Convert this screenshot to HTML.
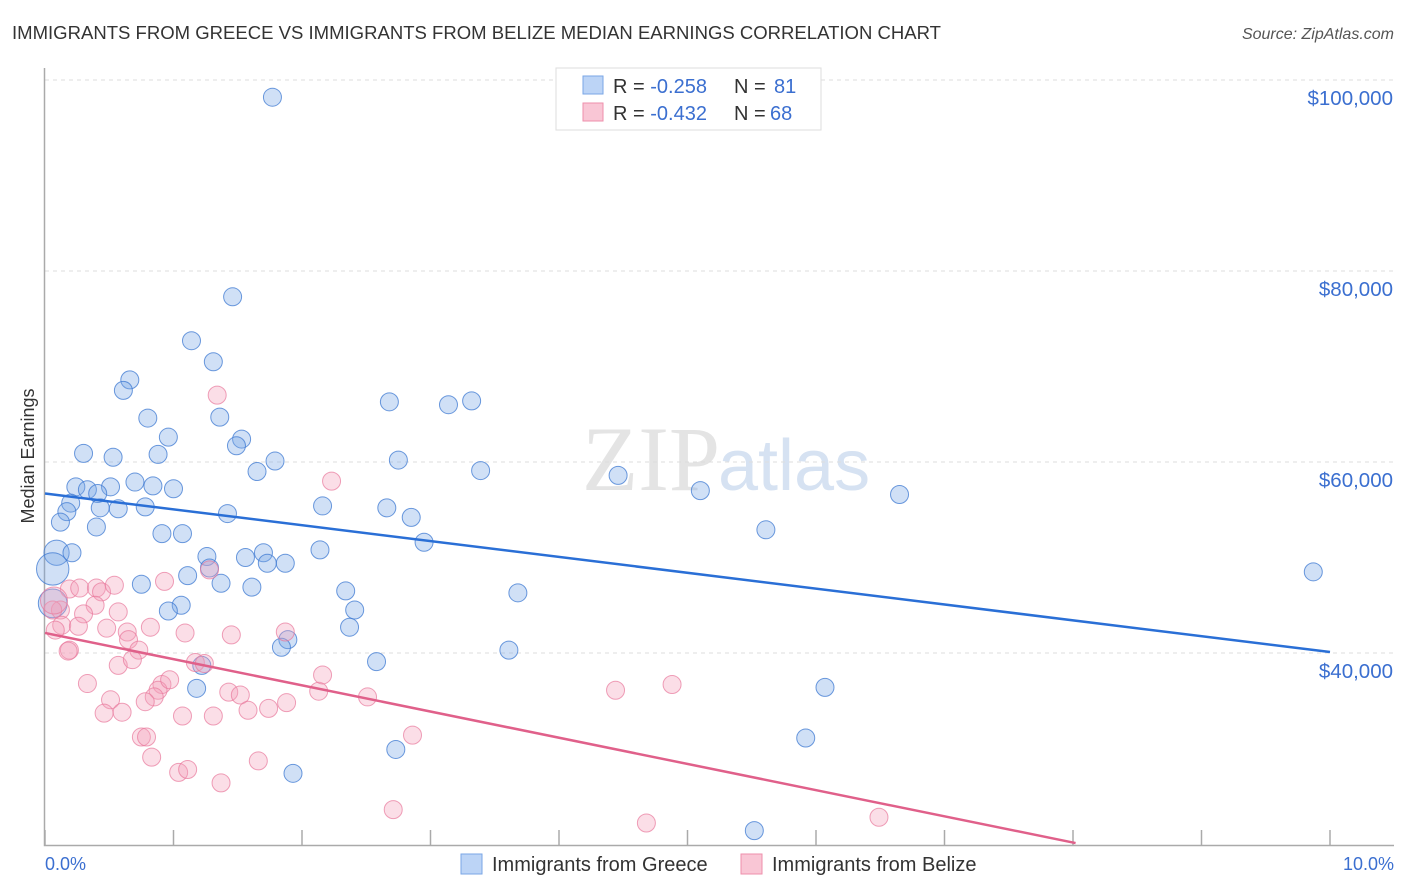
<!DOCTYPE html>
<html><head><meta charset="utf-8"><style>
body{margin:0;background:#fff;font-family:"Liberation Sans",sans-serif;}
#wrap{position:relative;width:1406px;height:892px;overflow:hidden;}
svg{position:absolute;left:0;top:0;}
</style></head><body>
<div id="wrap">
<svg id="chart" width="1406" height="892">
<text x="12" y="39" font-size="18" fill="#333" textLength="929" lengthAdjust="spacingAndGlyphs">IMMIGRANTS FROM GREECE VS IMMIGRANTS FROM BELIZE MEDIAN EARNINGS CORRELATION CHART</text>
<text x="1394" y="39" font-size="16" fill="#555" font-style="italic" text-anchor="end">Source: ZipAtlas.com</text>
<text x="720" y="490" font-size="92" fill="#e4e4e4" font-family="Liberation Serif,serif" text-anchor="end">ZIP</text>
<text x="718" y="490" font-size="72" fill="#d6e2f2" text-anchor="start">atlas</text>
<g id="grid"></g>
<g id="axes"></g>
<g id="pts"></g>
<g id="trends"></g>
<text transform="translate(34,456) rotate(-90)" font-size="18" fill="#333" text-anchor="middle">Median Earnings</text>
<text x="45" y="870" font-size="18" fill="#3b6fd0">0.0%</text>
<text x="1394" y="870" font-size="18" fill="#3b6fd0" text-anchor="end">10.0%</text>
<g>
<rect x="556" y="68" width="265" height="62" fill="#fff" stroke="#ddd"/>
<rect x="583" y="76" width="20" height="18" fill="#bcd4f6" stroke="#7aa6e6"/>
<rect x="583" y="103" width="20" height="18" fill="#f9c6d5" stroke="#ee8fab"/>
<text x="613" y="93" font-size="20" fill="#333">R = <tspan fill="#3b6fd0">-0.258</tspan><tspan x="734">N = </tspan><tspan fill="#3b6fd0" x="774">81</tspan></text>
<text x="613" y="120" font-size="20" fill="#333">R = <tspan fill="#3b6fd0">-0.432</tspan><tspan x="734">N = </tspan><tspan fill="#3b6fd0" x="770">68</tspan></text>
</g>
<g>
<rect x="461" y="854" width="21" height="20" fill="#bcd4f6" stroke="#7aa6e6"/>
<text x="492" y="871" font-size="20" fill="#333">Immigrants from Greece</text>
<rect x="741" y="854" width="21" height="20" fill="#f9c6d5" stroke="#ee8fab"/>
<text x="772" y="871" font-size="20" fill="#333">Immigrants from Belize</text>
</g>
</svg>
</div>
<script>
const yTicks=[40000,60000,80000,100000];
const yTickLabels=["$40,000","$60,000","$80,000","$100,000"];
const xTicks=[0,1,2,3,4,5,6,7,8,9,10];
const greeceX=[1.77,1.46,1.14,1.31,0.66,0.61,0.80,1.36,0.96,1.53,1.49,0.30,0.88,0.53,1.79,1.65,2.68,3.14,3.32,2.75,3.39,4.46,5.10,6.65,5.61,9.87,0.24,0.33,0.51,0.70,0.84,1.00,0.41,0.20,0.17,0.43,0.57,0.78,0.12,0.40,0.91,1.07,1.42,2.16,2.66,2.85,2.95,2.14,1.26,1.56,1.70,1.73,1.87,0.09,0.21,0.06,1.28,1.11,0.75,1.37,1.61,2.34,3.68,1.06,0.96,2.41,2.37,1.89,1.84,3.61,2.58,1.22,1.18,6.07,2.73,5.92,1.93,5.52,0.06];
const greeceY=[98.2,77.3,72.7,70.5,68.6,67.5,64.6,64.7,62.6,62.4,61.7,60.9,60.8,60.5,60.1,59.0,66.3,66.0,66.4,60.2,59.1,58.6,57.0,56.6,52.9,48.5,57.4,57.1,57.4,57.9,57.5,57.2,56.7,55.7,54.8,55.2,55.1,55.3,53.7,53.2,52.5,52.5,54.6,55.4,55.2,54.2,51.6,50.8,50.1,50.0,50.5,49.4,49.4,50.5,50.5,48.8,48.9,48.1,47.2,47.3,46.9,46.5,46.3,45.0,44.4,44.5,42.7,41.4,40.6,40.3,39.1,38.7,36.3,36.4,29.9,31.1,27.4,21.4,45.2];
const greeceSize=[1,1,1,1,1,1,1,1,1,1,1,1,1,1,1,1,1,1,1,1,1,1,1,1,1,1,1,1,1,1,1,1,1,1,1,1,1,1,1,1,1,1,1,1,1,1,1,1,1,1,1,1,1,1.4,1,1.8,1,1,1,1,1,1,1,1,1,1,1,1,1,1,1,1,1,1,1,1,1,1,1.6];
const belizeX=[1.34,2.23,0.93,1.28,0.19,0.27,0.40,0.44,0.54,0.39,0.57,0.12,0.06,0.13,0.30,0.08,0.26,0.48,0.64,0.65,0.73,0.19,0.82,1.09,1.45,1.87,1.17,0.57,0.68,1.24,0.33,0.51,0.91,0.88,0.97,0.85,0.78,1.43,1.52,1.88,2.13,2.51,2.16,4.44,4.88,0.46,0.60,1.07,1.31,1.58,1.74,0.75,0.79,2.86,0.83,1.66,1.04,1.11,1.37,2.71,4.68,6.49,0.18,0.07];
const belizeY=[67.0,58.0,47.5,48.7,46.7,46.8,46.8,46.4,47.1,45.0,44.3,44.5,44.5,42.9,44.1,42.4,42.8,42.6,42.2,41.4,40.3,40.3,42.7,42.1,41.9,42.2,39.0,38.7,39.3,38.9,36.8,35.1,36.7,36.1,37.2,35.4,34.9,35.9,35.6,34.8,36.0,35.4,37.7,36.1,36.7,33.7,33.8,33.4,33.4,34.0,34.2,31.2,31.2,31.4,29.1,28.7,27.5,27.8,26.4,23.6,22.2,22.8,40.2,45.5];
const trendGreece=[56.7,40.1];   // value at x=0 and x=10
const trendBelize=[42.1,20.1,8.02]; // value at x=0, value at end, end x
const NS="http://www.w3.org/2000/svg";
const X0=45,X1=1330,YT=80,Y100=100000,PX20=191;
function xs(p){return X0+p*(X1-X0)/10;}
function ys(v){return YT+(Y100-v)*PX20/20000;}
function mk(tag,attrs,parent){const e=document.createElementNS(NS,tag);for(const k in attrs)e.setAttribute(k,attrs[k]);parent.appendChild(e);return e;}
const grid=document.getElementById('grid'),axes=document.getElementById('axes'),pts=document.getElementById('pts'),tr=document.getElementById('trends');
yTicks.forEach((v,i)=>{
  const l=mk('line',{x1:45,x2:1394,y1:ys(v),y2:ys(v),stroke:'#ddd','stroke-dasharray':'4,4'},grid);
  
  
  const t=mk('text',{x:1393,y:ys(v)+25,'font-size':20.5,fill:'#3b6fd0','text-anchor':'end'},grid);
  t.textContent=yTickLabels[i];
  
  
});
const ax=mk('path',{d:'M44.5,68 V845.5 H1394',fill:'none',stroke:'#aaa','stroke-width':1.5},axes);


xTicks.forEach(p=>{
  const t=mk('line',{x1:xs(p),x2:xs(p),y1:830,y2:845,stroke:'#aaa','stroke-width':1.5},axes);
  
  
});
greeceX.forEach((x,i)=>{
  const c=mk('circle',{cx:xs(x),cy:ys(greeceY[i]*1000),r:9*greeceSize[i],fill:'rgba(120,165,230,0.35)',stroke:'rgba(60,120,210,0.75)','stroke-width':1},pts);
  
  
});
belizeX.forEach((x,i)=>{
  const c=mk('circle',{cx:xs(x),cy:ys(belizeY[i]*1000),r:9*(i===belizeX.length-1?1.5:1),fill:'rgba(244,160,185,0.35)',stroke:'rgba(232,120,155,0.7)','stroke-width':1},pts);
  
  
});
const tg=mk('line',{x1:xs(0),y1:ys(trendGreece[0]*1000),x2:xs(10),y2:ys(trendGreece[1]*1000),stroke:'#2a6fd6','stroke-width':2.5},tr);


const tb=mk('line',{x1:xs(0),y1:ys(trendBelize[0]*1000),x2:xs(trendBelize[2]),y2:ys(trendBelize[1]*1000),stroke:'#e0608a','stroke-width':2.5},tr);


</script>
</body></html>
